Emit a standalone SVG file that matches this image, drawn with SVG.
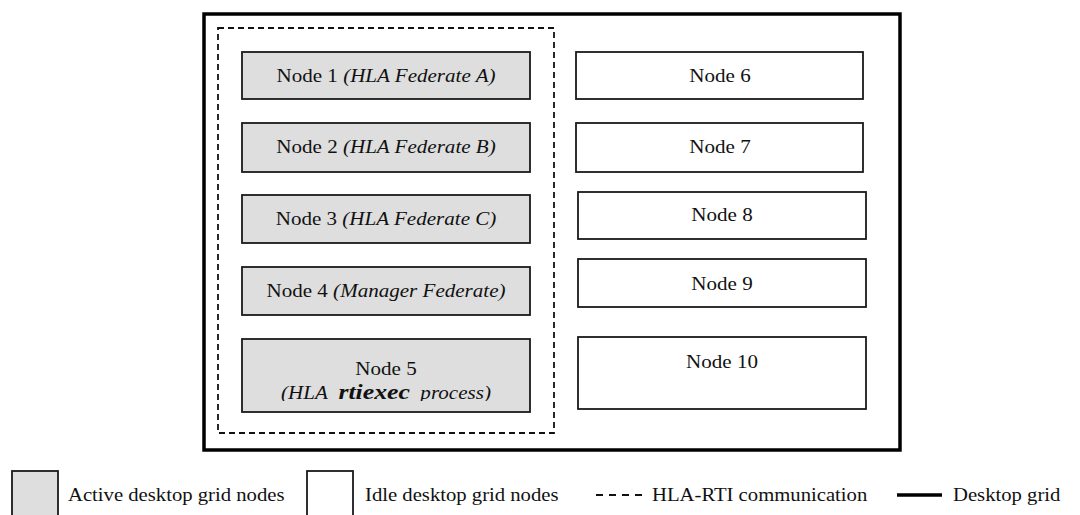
<svg xmlns="http://www.w3.org/2000/svg" width="1080" height="515" viewBox="0 0 1080 515">
  <style>
    .grid { fill: none; stroke: #000; stroke-width: 3.5; }
    .rti { fill: none; stroke: #111; stroke-width: 1.8; stroke-dasharray: 6 4; }
    .active { fill: #dedede; stroke: #1a1a1a; stroke-width: 1.8; }
    .idle { fill: #fff; stroke: #1a1a1a; stroke-width: 1.8; }
    text { font-family: "Liberation Serif", "Times New Roman", serif; font-size: 18px; fill: #111; }
    .c { text-anchor: middle; }
    .it { font-style: italic; }
    .bi { font-style: italic; font-weight: bold; font-size: 22px; }
  </style>
  <defs>
    <clipPath id="n5clip">
      <rect x="242" y="339" width="288" height="62"/>
    </clipPath>
  </defs>

  <rect width="1080" height="515" fill="#fff"/>

  <!-- desktop grid boundary and HLA-RTI communication boundary -->
  <g id="connectors">
    <rect class="grid" x="204" y="14" width="696" height="436"/>
    <rect class="rti" x="218" y="28" width="336" height="405"/>
  </g>

  <!-- active nodes -->
  <g id="node1">
    <rect class="active" x="242" y="52" width="288" height="47"/>
    <text class="c" transform="translate(386,82) scale(1.17,1)">Node 1 <tspan class="it">(HLA Federate A)</tspan></text>
  </g>
  <g id="node2">
    <rect class="active" x="242" y="123" width="288" height="49"/>
    <text class="c" transform="translate(386,153) scale(1.17,1)">Node 2 <tspan class="it">(HLA Federate B)</tspan></text>
  </g>
  <g id="node3">
    <rect class="active" x="242" y="195" width="288" height="48"/>
    <text class="c" transform="translate(386,225) scale(1.17,1)">Node 3 <tspan class="it">(HLA Federate C)</tspan></text>
  </g>
  <g id="node4">
    <rect class="active" x="242" y="267" width="288" height="48"/>
    <text class="c" transform="translate(386,297) scale(1.17,1)">Node 4 <tspan class="it">(Manager Federate)</tspan></text>
  </g>
  <g id="node5">
    <rect class="active" x="242" y="339" width="288" height="73"/>
    <text class="c" transform="translate(386,375) scale(1.17,1)">Node 5</text>
    <g clip-path="url(#n5clip)">
      <text class="c it" transform="translate(386,399) scale(1.17,1)">(HLA&#160; <tspan class="bi">rtiexec</tspan>&#160; process)</text>
    </g>
  </g>

  <!-- idle nodes -->
  <g id="node6">
    <rect class="idle" x="576" y="52" width="287" height="47"/>
    <text class="c" transform="translate(720,82) scale(1.17,1)">Node 6</text>
  </g>
  <g id="node7">
    <rect class="idle" x="576" y="123" width="287" height="49"/>
    <text class="c" transform="translate(720,153) scale(1.17,1)">Node 7</text>
  </g>
  <g id="node8">
    <rect class="idle" x="578" y="192" width="288" height="47"/>
    <text class="c" transform="translate(722,221) scale(1.17,1)">Node 8</text>
  </g>
  <g id="node9">
    <rect class="idle" x="578" y="259" width="288" height="48"/>
    <text class="c" transform="translate(722,290) scale(1.17,1)">Node 9</text>
  </g>
  <g id="node10">
    <rect class="idle" x="578" y="337" width="288" height="72"/>
    <text class="c" transform="translate(722,368) scale(1.17,1)">Node 10</text>
  </g>

  <!-- legend -->
  <g id="legend">
    <rect class="active" x="12" y="471" width="46" height="50"/>
    <text transform="translate(68,501) scale(1.15,1)">Active desktop grid nodes</text>
    <rect class="idle" x="307" y="471" width="46" height="50"/>
    <text transform="translate(365,501) scale(1.15,1)">Idle desktop grid nodes</text>
    <line x1="596" y1="495" x2="642" y2="495" stroke="#111" stroke-width="1.8" stroke-dasharray="7 6"/>
    <text transform="translate(652,501) scale(1.15,1)">HLA-RTI communication</text>
    <line x1="897" y1="495" x2="942" y2="495" stroke="#000" stroke-width="3.5"/>
    <text transform="translate(953,501) scale(1.15,1)">Desktop grid</text>
  </g>
</svg>
